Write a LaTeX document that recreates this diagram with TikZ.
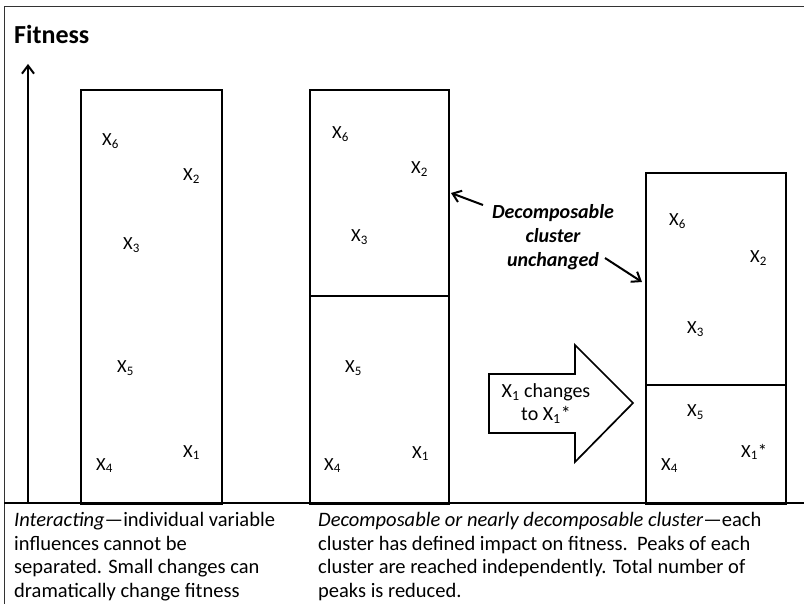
\documentclass[tikz,border=0pt]{standalone}
\usepackage{fontspec}
\setmainfont{Carlito}
\usetikzlibrary{arrows.meta}
\newcommand{\xv}[1]{X\textsubscript{#1}}
\begin{document}
\begin{tikzpicture}[x=1pt,y=-1pt,
  box/.style={draw, line width=1.7pt, inner sep=0pt, anchor=north west},
  var/.style={anchor=base west, inner sep=0pt, font=\fontsize{18.5}{20}\selectfont},
  note/.style={anchor=north west, inner sep=0pt, align=left, font=\fontsize{20.5}{23.6}\selectfont},
  pointer/.style={line width=2pt, -{Straight Barb[length=8pt,width=12pt,line width=2pt]}}]
\useasboundingbox (0,0) rectangle (804,604);
% frame and ground line
\draw[line width=1.2pt, black!80] (4.5,6.5) rectangle (806,606);
\coordinate (gl) at (4,503);
\coordinate (gr) at (806,503);
\draw[line width=2.8pt] (gl) -- (gr);
% fitness axis
\node[anchor=base west, inner sep=0pt, font=\fontsize{26}{28}\selectfont\bfseries] (fit) at (14,44) {Fitness};
\coordinate (ax0) at (28,503);
\coordinate (ax1) at (28,64);
\draw[pointer] (ax0) -- (ax1);
% landscapes
\node[box, minimum width=141pt, minimum height=414pt] (b1) at (80,89) {};
\node[box, minimum width=139pt, minimum height=414pt] (b2) at (309,89) {};
\node[box, minimum width=140pt, minimum height=331pt] (b3) at (645,172) {};
\draw[line width=1.7pt] (b2.west |- 0,296) -- (b2.east |- 0,296);
\draw[line width=1.7pt] (b3.west |- 0,385) -- (b3.east |- 0,385);
% variables, interacting
\node[var] (a6) at (102,146) {\xv{6}};
\node[var] (a2) at (183,181) {\xv{2}};
\node[var] (a3) at (123,250) {\xv{3}};
\node[var] (a5) at (117,373) {\xv{5}};
\node[var] (a4) at (96,470) {\xv{4}};
\node[var] (a1) at (183,457) {\xv{1}};
% variables, clustered
\node[var] (c6) at (332,139) {\xv{6}};
\node[var] (c2) at (411,174) {\xv{2}};
\node[var] (c3) at (351,242) {\xv{3}};
\node[var] (c5) at (345,373) {\xv{5}};
\node[var] (c4) at (324,470) {\xv{4}};
\node[var] (c1) at (412,458) {\xv{1}};
% variables, after the change
\node[var] (d6) at (669,226) {\xv{6}};
\node[var] (d2) at (750,263) {\xv{2}};
\node[var] (d3) at (687,334) {\xv{3}};
\node[var] (d5) at (687,417) {\xv{5}};
\node[var] (d4) at (661,470) {\xv{4}};
\node[var] (d1) at (741,457) {\xv{1}*};
% block arrow
\draw[line width=1.7pt, fill=white] (489,374) -- (575,374) -- (575,345) -- (633,403)
  -- (575,462) -- (575,433) -- (489,433) -- cycle;
\node[align=center, inner sep=0pt, font=\fontsize{20}{23}\selectfont] (chg) at (546,404)
  {\xv{1} changes\\to \xv{1}*};
% annotation
\node[align=center, inner sep=0pt, font=\fontsize{20}{24}\selectfont\bfseries\itshape] (ann) at (553,237)
  {Decomposable\\cluster\\unchanged};
\coordinate (t1) at (483,205);
\coordinate (h1) at (451,193);
\coordinate (t2) at (605,258);
\coordinate (h2) at (642,282);
\draw[pointer] (t1) -- (h1);
\draw[pointer] (t2) -- (h2);
% captions
\node[note] (capl) at (14,512) {\textit{Interacting}—individual variable\\influences cannot be\\separated. Small changes can\\dramatically change fitness};
\node[note] (capr) at (318,512) {\textit{Decomposable or nearly decomposable cluster}—each\\cluster has defined impact on fitness.\ \ Peaks of each\\cluster are reached independently. Total number of\\peaks is reduced.};
\end{tikzpicture}
\end{document}
